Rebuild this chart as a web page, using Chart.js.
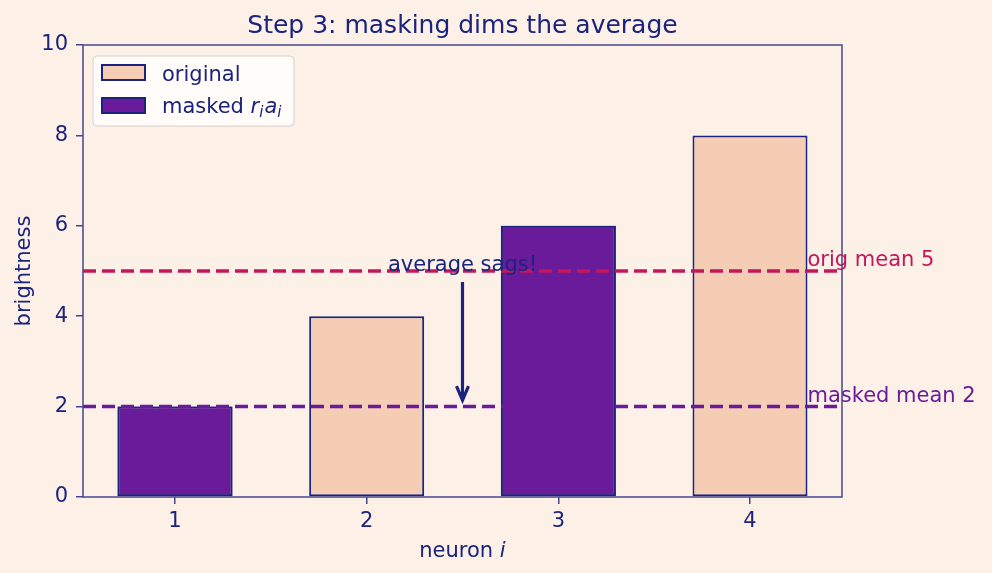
<!DOCTYPE html>
<html><head><meta charset="utf-8">
<script src="https://cdn.jsdelivr.net/npm/chart.js@4/dist/chart.umd.min.js"></script>
<style>html,body{margin:0;padding:0;background:#fdf1e7;}canvas{display:block}</style>
</head><body>
<canvas id="c" width="992" height="573"></canvas>
<script>
// ---- data ----
const neurons = [1, 2, 3, 4];
const original = [2, 4, 6, 8];
const masked = [2, 0, 6, 0];
const origMean = 5;
const maskedMean = 2;
const xTicks = [1, 2, 3, 4];
const yTicks = [0, 2, 4, 6, 8, 10];
const xRange = [0.52, 4.48];
const yRange = [0, 10];
const titleText = 'Step 3: masking dims the average';
const yLabel = 'brightness';
const xLabel = ['neuron ', 'i'];
const legendLabels = ['original', 'masked '];
const arrowNote = {text: 'average sags!', x: 2.5, yText: 5.0, yHead: 2.1};
const meanNotes = [
  {text: 'orig mean 5', x: 4.3, y: 5.1},
  {text: 'masked mean 2', x: 4.3, y: 2.1}
];

// ---- styling ----
const FONT = "'DejaVu Sans', sans-serif";
const FS = 21;
const BG = '#fdf1e7';
const NAVY = '#1a237e';
const FRAME = '#45458f';
const PEACH = '#f5cdb4';
const PURPLE = '#6a1b9a';
const CRIMSON = '#c2185b';

const deco = {
  id: 'deco',
  beforeDraw(chart) {
    const ctx = chart.ctx;
    ctx.save();
    ctx.fillStyle = BG;
    ctx.fillRect(0, 0, chart.width, chart.height);
    ctx.restore();
  },
  afterDatasetsDraw(chart) {
    const {ctx, scales: {x, y}} = chart;
    ctx.save();
    ctx.font = `${FS}px ${FONT}`;
    ctx.textBaseline = 'alphabetic';
    // mean labels
    ctx.textAlign = 'left';
    ctx.fillStyle = CRIMSON;
    ctx.fillText(meanNotes[0].text, x.getPixelForValue(meanNotes[0].x), y.getPixelForValue(meanNotes[0].y));
    ctx.fillStyle = PURPLE;
    ctx.fillText(meanNotes[1].text, x.getPixelForValue(meanNotes[1].x), y.getPixelForValue(meanNotes[1].y));
    // arrow
    const ax = x.getPixelForValue(arrowNote.x);
    const yT = y.getPixelForValue(arrowNote.yText);
    const yH = y.getPixelForValue(arrowNote.yHead) - 2;
    ctx.strokeStyle = NAVY;
    ctx.lineWidth = 3.2;
    ctx.lineCap = 'butt';
    ctx.beginPath();
    ctx.moveTo(ax, yT + 11);
    ctx.lineTo(ax, yH - 1);
    ctx.stroke();
    ctx.lineJoin = 'miter';
    ctx.beginPath();
    ctx.moveTo(ax - 6, yH - 14);
    ctx.lineTo(ax, yH);
    ctx.lineTo(ax + 6, yH - 14);
    ctx.stroke();
    // annotation text
    ctx.fillStyle = NAVY;
    ctx.textAlign = 'center';
    ctx.fillText(arrowNote.text, ax, yT);
    ctx.restore();
  },
  afterDraw(chart) {
    const {ctx, chartArea: a} = chart;
    ctx.save();
    // frame
    ctx.strokeStyle = FRAME;
    ctx.lineWidth = 1.5;
    ctx.strokeRect(a.left, a.top, a.right - a.left, a.bottom - a.top);
    // title
    const cx = (a.left + a.right) / 2;
    ctx.fillStyle = NAVY;
    ctx.font = `25px ${FONT}`;
    ctx.textAlign = 'center';
    ctx.textBaseline = 'alphabetic';
    ctx.fillText(titleText, cx, 33);
    // x label
    ctx.font = `${FS}px ${FONT}`;
    const w1 = ctx.measureText(xLabel[0]).width;
    ctx.font = `italic ${FS}px ${FONT}`;
    const w2 = ctx.measureText(xLabel[1]).width;
    const sx = cx - (w1 + w2) / 2;
    ctx.textAlign = 'left';
    ctx.font = `${FS}px ${FONT}`;
    ctx.fillText(xLabel[0], sx, 557);
    ctx.font = `italic ${FS}px ${FONT}`;
    ctx.fillText(xLabel[1], sx + w1, 557);
    // legend
    const lx = 93, ly = 56, lw = 201, lh = 70, r = 4;
    ctx.beginPath();
    ctx.moveTo(lx + r, ly);
    ctx.lineTo(lx + lw - r, ly);
    ctx.quadraticCurveTo(lx + lw, ly, lx + lw, ly + r);
    ctx.lineTo(lx + lw, ly + lh - r);
    ctx.quadraticCurveTo(lx + lw, ly + lh, lx + lw - r, ly + lh);
    ctx.lineTo(lx + r, ly + lh);
    ctx.quadraticCurveTo(lx, ly + lh, lx, ly + lh - r);
    ctx.lineTo(lx, ly + r);
    ctx.quadraticCurveTo(lx, ly, lx + r, ly);
    ctx.closePath();
    ctx.fillStyle = 'rgba(255,255,255,0.8)';
    ctx.fill();
    ctx.strokeStyle = '#d6d0cc';
    ctx.lineWidth = 1;
    ctx.stroke();
    // swatches
    ctx.lineWidth = 2;
    ctx.strokeStyle = NAVY;
    ctx.fillStyle = PEACH;
    ctx.fillRect(102, 65, 43, 15);
    ctx.strokeRect(102, 65, 43, 15);
    ctx.fillStyle = PURPLE;
    ctx.fillRect(102, 98, 43, 15);
    ctx.strokeRect(102, 98, 43, 15);
    // labels
    ctx.fillStyle = NAVY;
    ctx.font = `${FS}px ${FONT}`;
    ctx.fillText(legendLabels[0], 162, 81);
    ctx.fillText(legendLabels[1], 162, 113);
    let px = 162 + ctx.measureText(legendLabels[1]).width;
    const parts = [['r', FS, 0], ['i', 15, 4], ['a', FS, 0], ['i', 15, 4]];
    for (const [t, s, dy] of parts) {
      ctx.font = `italic ${s}px ${FONT}`;
      ctx.fillText(t, px, 113 + dy);
      px += ctx.measureText(t).width + (s < FS ? 1 : 0);
    }
    ctx.restore();
  }
};

new Chart(document.getElementById('c'), {
  type: 'bar',
  data: {
    datasets: [
      {
        type: 'line', label: 'orig mean',
        data: [{x: xRange[0], y: origMean}, {x: xRange[1], y: origMean}],
        borderColor: CRIMSON, borderWidth: 3.5, borderDash: [13, 6],
        pointRadius: 0, order: 0
      },
      {
        type: 'line', label: 'masked mean',
        data: [{x: xRange[0], y: maskedMean}, {x: xRange[1], y: maskedMean}],
        borderColor: PURPLE, borderWidth: 3.5, borderDash: [13, 6],
        pointRadius: 0, order: 0
      },
      {
        label: 'original',
        data: neurons.map((n, i) => ({x: n, y: original[i]})),
        backgroundColor: PEACH, borderColor: NAVY, borderWidth: 2,
        borderSkipped: false,
        barPercentage: 0.6, categoryPercentage: 1.0, order: 2
      },
      {
        label: 'masked',
        data: neurons.map((n, i) => ({x: n, y: masked[i]})),
        backgroundColor: PURPLE, borderColor: NAVY, borderWidth: 2,
        borderSkipped: false,
        barPercentage: 0.6, categoryPercentage: 1.0, order: 1
      }
    ]
  },
  options: {
    responsive: false,
    animation: false,
    devicePixelRatio: 1,
    events: [],
    layout: {padding: {top: 45, right: 150, left: 0, bottom: 0}},
    plugins: {legend: {display: false}, tooltip: {enabled: false}, title: {display: false}},
    scales: {
      x: {
        type: 'linear', stacked: true, offset: false,
        min: xRange[0], max: xRange[1],
        afterBuildTicks: (s) => { s.ticks = xTicks.map(v => ({value: v})); },
        afterFit: (s) => { s.height = 76; },
        grid: {display: true, offset: false, drawOnChartArea: false, drawTicks: true, tickLength: 7, color: FRAME, lineWidth: 1.5},
        border: {display: false},
        ticks: {color: NAVY, font: {family: FONT, size: FS}, padding: 5, maxRotation: 0, autoSkip: false}
      },
      y: {
        type: 'linear', stacked: false,
        min: yRange[0], max: yRange[1],
        afterBuildTicks: (s) => { s.ticks = yTicks.map(v => ({value: v})); },
        afterFit: (s) => { s.width = 83; },
        grid: {display: true, drawOnChartArea: false, drawTicks: true, tickLength: 7, color: FRAME, lineWidth: 1.5},
        border: {display: false},
        ticks: {color: NAVY, font: {family: FONT, size: FS}, padding: 8},
        title: {display: true, text: yLabel, color: NAVY, font: {family: FONT, size: FS}, padding: {top: 12, bottom: 0}}
      }
    }
  },
  plugins: [deco]
});
</script>
</body></html>
